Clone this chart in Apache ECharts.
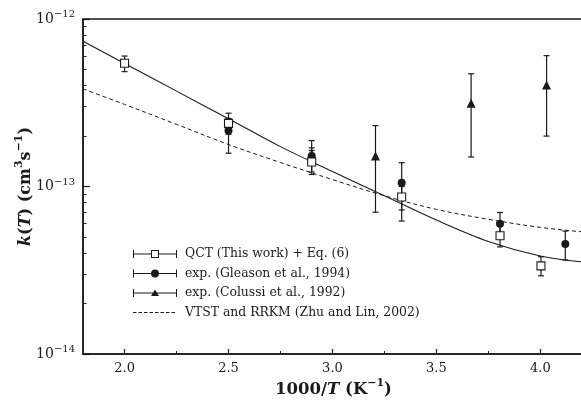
<!DOCTYPE html>
<html>
<head>
<meta charset="utf-8">
<script src="https://cdn.jsdelivr.net/npm/echarts@6/dist/echarts.min.js"></script>
<style>
  html, body { margin: 0; padding: 0; background: #fff; }
  #chart { width: 581px; height: 400px; }
</style>
</head>
<body>
<div id="chart"></div>
<script>
// x = 1000/T (K^-1), k in cm^3 s^-1
var qctX = [2.0, 2.5, 2.9, 3.333, 3.806, 4.003];
var qctK = [5.44e-13, 2.38e-13, 1.40e-13, 8.65e-14, 5.08e-14, 3.36e-14];
var qctLo = [4.85e-13, 2.05e-13, 1.22e-13, 7.24e-14, 4.36e-14, 2.93e-14];
var qctHi = [6.01e-13, 2.74e-13, 1.64e-13, 1.00e-13, 5.80e-14, 3.81e-14];

var gleX = [2.5, 2.9, 3.333, 3.806, 4.12];
var gleK = [2.16e-13, 1.52e-13, 1.054e-13, 6.0e-14, 4.54e-14];
var gleLo = [1.58e-13, 1.18e-13, 6.22e-14, 5.0e-14, 3.64e-14];
var gleHi = [2.55e-13, 1.88e-13, 1.387e-13, 7.0e-14, 5.42e-14];

var colX = [2.9, 3.207, 3.667, 4.03];
var colK = [1.57e-13, 1.52e-13, 3.14e-13, 4.04e-13];
var colLo = [1.45e-13, 7.02e-14, 1.50e-13, 2.0e-13];
var colHi = [1.70e-13, 2.31e-13, 4.71e-13, 6.04e-13];

// Eq. (6) fit (solid) and VTST/RRKM (dashed)
var fitX = [1.8, 2.0, 2.25, 2.5, 2.75, 3.0, 3.25, 3.5, 3.75, 4.0, 4.21];
var fitK = [7.36e-13, 5.43e-13, 3.71e-13, 2.54e-13, 1.73e-13, 1.23e-13, 8.8e-14, 6.3e-14, 4.7e-14, 3.85e-14, 3.54e-14];
var vtstX = [1.8, 2.0, 2.25, 2.5, 2.75, 3.0, 3.25, 3.5, 3.75, 4.0, 4.21];
var vtstK = [3.83e-13, 3.09e-13, 2.35e-13, 1.78e-13, 1.39e-13, 1.10e-13, 8.8e-14, 7.3e-14, 6.37e-14, 5.7e-14, 5.35e-14];

var xMajor = [2.0, 2.5, 3.0, 3.5, 4.0];
var xMinor = [2.25, 2.75, 3.25, 3.75];
var yMinor = [2e-14, 3e-14, 4e-14, 5e-14, 6e-14, 7e-14, 8e-14, 9e-14,
              2e-13, 3e-13, 4e-13, 5e-13, 6e-13, 7e-13, 8e-13, 9e-13];

var names = ['QCT (This work) + Eq. (6)', 'exp. (Gleason et al., 1994)',
             'exp. (Colussi et al., 1992)', 'VTST and RRKM (Zhu and Lin, 2002)'];

var ink = '#1a1a1a';
var serif = 'DejaVu Serif';

function zip(a, b) {
  var out = [];
  for (var i = 0; i < a.length; i++) out.push([a[i], b[i]]);
  return out;
}
function zip3(a, b, c) {
  var out = [];
  for (var i = 0; i < a.length; i++) out.push([a[i], b[i], c[i]]);
  return out;
}

//误差棒
function renderErr(params, api) {
  var top = api.coord([api.value(0), api.value(2)]);
  var bot = api.coord([api.value(0), api.value(1)]);
  var w = 3;
  var st = { stroke: ink, lineWidth: 1.2 };
  return {
    type: 'group',
    children: [
      { type: 'line', shape: { x1: top[0], y1: top[1], x2: bot[0], y2: bot[1] }, style: st },
      { type: 'line', shape: { x1: top[0] - w, y1: top[1], x2: top[0] + w, y2: top[1] }, style: st },
      { type: 'line', shape: { x1: bot[0] - w, y1: bot[1], x2: bot[0] + w, y2: bot[1] }, style: st }
    ]
  };
}

function errSeries(x, lo, hi) {
  return {
    type: 'custom',
    renderItem: renderErr,
    encode: { x: 0, y: [1, 2] },
    data: zip3(x, lo, hi),
    z: 3,
    silent: true
  };
}

// legend icons (44 x 8 box)
var caps = 'M0 0 H1 V8 H0 Z M43 0 H44 V8 H43 Z ';
var iconSquare = 'path://' + caps +
  'M1 3.5 H18 V4.5 H1 Z M26 3.5 H43 V4.5 H26 Z ' +
  'M18 0 H26 V8 H18 Z M19 1 V7 H25 V1 Z';
var iconCircle = 'path://' + caps +
  'M1 3.5 H43 V4.5 H1 Z M26 4 A4 4 0 1 1 18 4 A4 4 0 1 1 26 4 Z';
var iconTri = 'path://' + caps +
  'M1 3.5 H43 V4.5 H1 Z M22 0.5 L26 7 H18 Z';
var iconDash = 'path://M0 0 M44 8 ' +
  'M0 3.6 H3.5 V4.4 H0 Z M5.5 3.6 H9 V4.4 H5.5 Z M11 3.6 H14.5 V4.4 H11 Z ' +
  'M16.5 3.6 H20 V4.4 H16.5 Z M22 3.6 H25.5 V4.4 H22 Z M27.5 3.6 H31 V4.4 H27.5 Z ' +
  'M33 3.6 H36.5 V4.4 H33 Z M38.5 3.6 H42 V4.4 H38.5 Z';

var supStyle = { fontFamily: serif, fontWeight: 'bold', fontSize: 11, color: ink, padding: [0, 0, 12, 0] };

var option = {
  animation: false,
  backgroundColor: '#fff',
  grid: {
    left: 83, top: 19, bottom: 46, right: -3,
    outerBoundsMode: 'none',
    show: true, borderColor: ink, borderWidth: 1.5
  },
  legend: {
    orient: 'vertical',
    left: 128, top: 243,
    itemWidth: 44, itemHeight: 8, itemGap: 7.5,
    textStyle: { fontFamily: serif, fontSize: 12.4, color: ink, padding: [0, 0, 0, 3] },
    data: [
      { name: names[0], icon: iconSquare, itemStyle: { color: ink, borderWidth: 0 } },
      { name: names[1], icon: iconCircle, itemStyle: { color: ink, borderWidth: 0 } },
      { name: names[2], icon: iconTri, itemStyle: { color: ink, borderWidth: 0 } },
      { name: names[3], icon: iconDash, itemStyle: { color: ink, borderWidth: 0 } }
    ]
  },
  xAxis: [{
    type: 'value', min: 1.8, max: 4.21,
    axisLine: { lineStyle: { color: ink, width: 1.5 } },
    axisTick: { inside: true, length: 5, customValues: xMajor, lineStyle: { color: ink, width: 1.2 } },
    axisLabel: { customValues: xMajor, margin: 8, fontFamily: serif, fontSize: 13, color: ink,
      formatter: function(v) { return v.toFixed(1); } },
    splitLine: { show: false },
    name: '{b|1000/}{bi|T}{b| (K}{sup|−1}{b|)}',
    nameLocation: 'middle', nameGap: 24, nameMoveOverlap: false,
    nameTextStyle: {
      rich: {
        b: { fontFamily: serif, fontWeight: 'bold', fontSize: 16.5, color: ink },
        bi: { fontFamily: serif, fontWeight: 'bold', fontStyle: 'italic', fontSize: 16.5, color: ink },
        sup: supStyle
      }
    }
  }, {
    type: 'value', min: 1.8, max: 4.21, position: 'bottom',
    axisLine: { show: false },
    axisTick: { inside: true, length: 3, customValues: xMinor, lineStyle: { color: ink, width: 1 } },
    axisLabel: { show: false },
    splitLine: { show: false }
  }],
  yAxis: [{
    type: 'log', logBase: 10, min: 1e-14, max: 1e-12,
    axisLine: { show: true, lineStyle: { color: ink, width: 1.5 } },
    axisTick: { inside: true, length: 7, lineStyle: { color: ink, width: 1.2 } },
    axisLabel: {
      margin: 8,
      formatter: function(v) {
        var e = Math.round(Math.log(v) / Math.LN10);
        return '{n|10}{s|−' + Math.abs(e) + '}';
      },
      rich: {
        n: { fontFamily: serif, fontSize: 14, color: ink },
        s: { fontFamily: serif, fontSize: 10, color: ink, padding: [0, 0, 9, 0] }
      }
    },
    splitLine: { show: false },
    name: '{bi|k}{b|(}{bi|T}{b|) (cm}{sup|3}{b|s}{sup|−1}{b|)}',
    nameLocation: 'middle', nameGap: 46, nameRotate: 90, nameMoveOverlap: false,
    nameTextStyle: {
      rich: {
        b: { fontFamily: serif, fontWeight: 'bold', fontSize: 16, color: ink },
        bi: { fontFamily: serif, fontWeight: 'bold', fontStyle: 'italic', fontSize: 16, color: ink },
        sup: supStyle
      }
    }
  }, {
    type: 'log', logBase: 10, min: 1e-14, max: 1e-12, position: 'left',
    axisLine: { show: false },
    axisTick: { inside: true, length: 3.5, customValues: yMinor, lineStyle: { color: ink, width: 1 } },
    axisLabel: { show: false },
    splitLine: { show: false }
  }],
  series: [
    {
      name: 'Eq. (6)', type: 'line', data: zip(fitX, fitK), smooth: 0.35,
      symbol: 'none', lineStyle: { color: ink, width: 1.1 }, itemStyle: { color: ink }, z: 2
    },
    {
      name: names[3], type: 'line', data: zip(vtstX, vtstK), smooth: 0.35,
      symbol: 'none', lineStyle: { color: ink, width: 1, type: [4, 3] }, itemStyle: { color: ink }, z: 2
    },
    errSeries(qctX, qctLo, qctHi),
    errSeries(gleX, gleLo, gleHi),
    errSeries(colX, colLo, colHi),
    {
      name: names[0], type: 'scatter', data: zip(qctX, qctK), symbol: 'rect', symbolSize: 8,
      itemStyle: { color: '#fff', borderColor: ink, borderWidth: 1.1, opacity: 1 }, z: 5
    },
    {
      name: names[1], type: 'scatter', data: zip(gleX, gleK), symbol: 'circle', symbolSize: 8,
      itemStyle: { color: ink, opacity: 1 }, z: 4
    },
    {
      name: names[2], type: 'scatter', data: zip(colX, colK), symbol: 'triangle', symbolSize: 9,
      itemStyle: { color: ink, opacity: 1 }, z: 4
    }
  ]
};

var myChart = echarts.init(document.getElementById('chart'));
myChart.setOption(option);
</script>
</body>
</html>
